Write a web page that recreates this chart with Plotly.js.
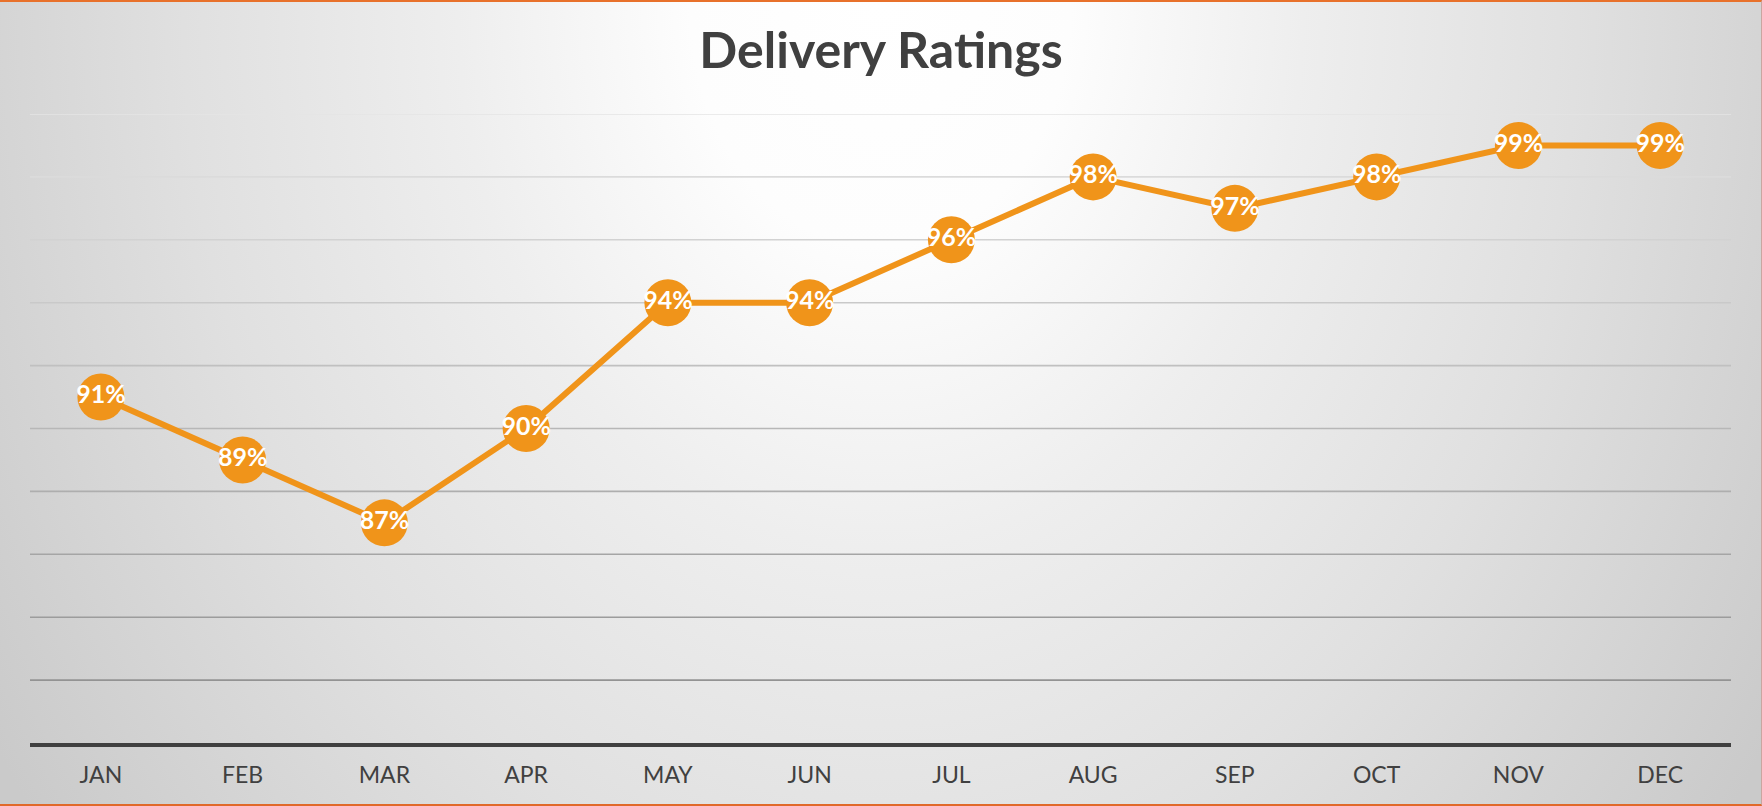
<!DOCTYPE html>
<html>
<head>
<meta charset="utf-8">
<script src="https://cdn.plot.ly/plotly-3.0.1.min.js"></script>
<style>
  html, body { margin: 0; padding: 0; }
  #wrap {
    position: relative;
    width: 1762px; height: 806px; box-sizing: border-box;
    border-top: 2px solid #E8712B;
    border-bottom: 2px solid #E0692A;
    border-right: 1px solid #c9a6a0;
    background: radial-gradient(ellipse 60% 170% at 50% 0%, #ffffff 0%, #fdfdfd 18%, #eeeeee 40%, #e0e0e0 66%, #cacaca 100%);
    overflow: hidden;
  }
  #chart { position: absolute; left: 0; top: -2px; width: 1762px; height: 806px; }
</style>
</head>
<body>
<div id="wrap"><div id="chart"></div></div>
<script>
const months = ["JAN","FEB","MAR","APR","MAY","JUN","JUL","AUG","SEP","OCT","NOV","DEC"];
const ratings = [91, 89, 87, 90, 94, 94, 96, 98, 97, 98, 99, 99];
const gridValues = [82, 84, 86, 88, 90, 92, 94, 96, 98, 100];
const yRange = [80, 100];

// gridline colours: darker near the bottom, lighter near the top
function gridColor(v) {
  const t = (v - yRange[0]) / (yRange[1] - yRange[0]);
  const c = Math.round(138 + (228 - 138) * t);
  return `rgb(${c},${c},${c})`;
}
const shapes = gridValues.map(v => ({
  type: 'line', xref: 'paper', yref: 'y', x0: 0, x1: 1, y0: v, y1: v,
  layer: 'below', line: { color: gridColor(v), width: 1.6 }
}));

const trace = {
  x: months,
  y: ratings,
  type: 'scatter',
  mode: 'lines+markers+text',
  line: { color: '#F0941A', width: 6 },
  marker: { color: '#F0941A', size: 47, line: { width: 0 } },
  text: ratings.map(v => v + '%'),
  textposition: 'middle center',
  textfont: { family: 'Lato, sans-serif', size: 25, color: '#ffffff', weight: 'bold' },
  hoverinfo: 'skip',
  cliponaxis: false
};

const layout = {
  width: 1762, height: 806,
  margin: { l: 30, r: 31, t: 114, b: 63 },
  paper_bgcolor: 'rgba(0,0,0,0)',
  plot_bgcolor: 'rgba(0,0,0,0)',
  showlegend: false,
  title: {
    text: 'Delivery Ratings',
    x: 0.5, xanchor: 'center',
    y: 1 - 50 / 806, yanchor: 'middle',
    font: { family: 'Lato, sans-serif', size: 50, color: '#404040', weight: 'bold' }
  },
  xaxis: {
    type: 'category',
    range: [-0.5, months.length - 0.5],
    autorange: false,
    showgrid: false,
    showline: true, linecolor: '#404040', linewidth: 4,
    ticks: '', zeroline: false,
    ticklabelstandoff: 8,
    tickfont: { family: 'Lato, sans-serif', size: 23, color: '#404040' },
    fixedrange: true
  },
  yaxis: {
    range: yRange,
    autorange: false,
    showgrid: false, showline: false, zeroline: false,
    showticklabels: false, ticks: '',
    fixedrange: true
  },
  shapes: shapes
};

Plotly.newPlot('chart', [trace], layout, { displayModeBar: false, staticPlot: true });
</script>
</body>
</html>
